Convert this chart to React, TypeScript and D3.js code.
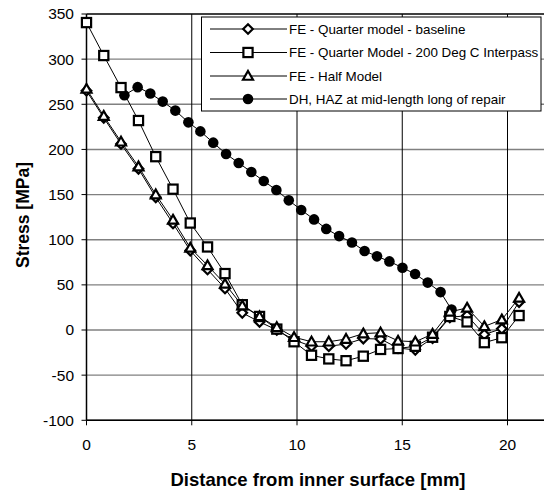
import React from 'react';
import * as d3 from 'd3';

// Distance from inner surface [mm] for the FE model nodes
const feDistance = [0, 0.82, 1.64, 2.47, 3.29, 4.11, 4.93, 5.75, 6.58, 7.4, 8.22, 9.04, 9.86, 10.69, 11.51, 12.33, 13.15, 13.97, 14.8, 15.62, 16.44, 17.26, 18.08, 18.9, 19.73, 20.55];
// Stress [MPa]
const quarterBaseline = [265, 235, 206, 178.5, 147, 118, 88, 67, 46, 19, 9, 0, -11, -18, -18, -15.5, -9.5, -10, -20, -22, -9, 14, 16, -5, 1.5, 31];
const quarterInterpass = [340.5, 304, 268.5, 232, 192, 156, 118.5, 92, 62.5, 28, 15, 1, -13, -28, -32, -34, -29, -21.5, -20.5, -18, -8, 15, 9, -14, -8.5, 16];
const halfModel = [267, 237, 208.5, 181, 150, 122, 91, 71.5, 51, 27, 15, 3, -8, -13, -13, -10, -4, -3, -12, -13, -4.5, 20, 24.5, 4, 11.5, 35.5];

// Deep-hole drilling measurement
const dhDistance = [1.8, 2.43, 3.03, 3.62, 4.22, 4.84, 5.41, 6.02, 6.63, 7.23, 7.83, 8.42, 9.02, 9.61, 10.2, 10.81, 11.39, 12.0, 12.61, 13.21, 13.8, 14.39, 15.01, 15.61, 16.21, 16.82, 17.34];
const dhStress = [260, 269, 262, 253, 243, 230, 220, 207.5, 195, 185, 175, 165, 155, 143.6, 133, 122.5, 112, 104, 97, 87.5, 81.6, 76, 69, 62, 52.5, 42, 22.6];

const seriesNames = [
  'FE - Quarter model - baseline',
  'FE - Quarter Model - 200 Deg C Interpass',
  'FE - Half Model',
  'DH, HAZ at mid-length long of repair',
];
const markerKinds = ['diamond', 'square', 'triangle', 'circle'];

const xTicks = [0, 5, 10, 15, 20];
const yTicks = [-100, -50, 0, 50, 100, 150, 200, 250, 300, 350];

const W = 544;
const H = 492;
const x = d3.scaleLinear().domain([0, 22]).range([86.5, 86.5 + 22 * 21.05]);
const y = d3.scaleLinear().domain([-100, 350]).range([420.3, 14]);

const FONT = 'Liberation Sans, Arial, sans-serif';

function Marker({ kind, cx, cy }: { kind: string; cx: number; cy: number }) {
  const sw = 2.2;
  if (kind === 'diamond') {
    const r = 4.8;
    return (
      <path
        d={`M${cx},${cy - r}L${cx + r},${cy}L${cx},${cy + r}L${cx - r},${cy}Z`}
        fill="#fff"
        stroke="#000"
        strokeWidth={sw}
      />
    );
  }
  if (kind === 'square') {
    const r = 4.6;
    return <rect x={cx - r} y={cy - r} width={2 * r} height={2 * r} fill="#fff" stroke="#000" strokeWidth={sw} />;
  }
  if (kind === 'triangle') {
    const r = 5;
    return (
      <path
        d={`M${cx},${cy - r}L${cx + r},${cy + r * 0.75}L${cx - r},${cy + r * 0.75}Z`}
        fill="#fff"
        stroke="#000"
        strokeWidth={sw}
        strokeLinejoin="miter"
      />
    );
  }
  return <circle cx={cx} cy={cy} r={5.3} fill="#000" />;
}

export default function App() {
  const line = d3
    .line<[number, number]>()
    .x((d) => x(d[0]))
    .y((d) => y(d[1]));

  const feSeries = [quarterBaseline, quarterInterpass, halfModel].map((vals) =>
    vals.map((v, i) => [feDistance[i], v] as [number, number])
  );
  const dhSeries = dhStress.map((v, i) => [dhDistance[i], v] as [number, number]);

  const [x0, x1] = x.range();
  const [yb, yt] = y.range();

  const legendRows = [29, 52.5, 76, 99];

  return (
    <svg
      width={W}
      height={H}
      style={{ position: 'absolute', left: 0, top: 0, background: '#fff' }}
      fontFamily={FONT}
    >
      <rect x={0} y={0} width={W} height={H} fill="#fff" />

      {/* horizontal gridlines */}
      {yTicks.map((t) => (
        <line
          key={'hg' + t}
          x1={x0}
          x2={x1}
          y1={y(t)}
          y2={y(t)}
          stroke={t === 350 ? '#000' : '#808080'}
          strokeWidth={t === 350 ? 1.5 : 1.4}
        />
      ))}
      {/* vertical gridlines */}
      {xTicks
        .filter((t) => t > 0)
        .map((t) => (
          <line key={'vg' + t} x1={x(t)} x2={x(t)} y1={yt} y2={yb} stroke="#000" strokeWidth={1} />
        ))}

      {/* axes */}
      <line x1={x0} x2={x0} y1={yt} y2={yb} stroke="#000" strokeWidth={1.5} />
      <line x1={x0} x2={x1} y1={yb} y2={yb} stroke="#000" strokeWidth={1.5} />
      {yTicks.map((t) => (
        <g key={'yt' + t}>
          <line x1={x0 - 5} x2={x0} y1={y(t)} y2={y(t)} stroke="#000" strokeWidth={1} />
          <text x={74} y={y(t)} dy="0.35em" textAnchor="end" fontSize={15.5}>
            {t}
          </text>
        </g>
      ))}
      {xTicks.map((t) => (
        <g key={'xt' + t}>
          <line x1={x(t)} x2={x(t)} y1={yb} y2={yb + 5} stroke="#000" strokeWidth={1} />
          <text x={x(t)} y={445} dy="0.35em" textAnchor="middle" fontSize={15.5}>
            {t}
          </text>
        </g>
      ))}

      {/* axis titles */}
      <text x={318} y={480} dy="0.35em" textAnchor="middle" fontSize={18.5} fontWeight="bold">
        Distance from inner surface [mm]
      </text>
      <text
        transform={`translate(23,215) rotate(-90)`}
        dy="0.35em"
        textAnchor="middle"
        fontSize={17.5}
        fontWeight="bold"
      >
        Stress [MPa]
      </text>

      {/* DH measurement */}
      <path d={line(dhSeries) || ''} fill="none" stroke="#000" strokeWidth={1} />
      {dhSeries.map((d, i) => (
        <Marker key={'dh' + i} kind="circle" cx={x(d[0])} cy={y(d[1])} />
      ))}

      {/* FE series */}
      {feSeries.map((s, k) => (
        <g key={'fe' + k}>
          <path d={line(s) || ''} fill="none" stroke="#000" strokeWidth={1} />
          {s.map((d, i) => (
            <Marker key={i} kind={markerKinds[k]} cx={x(d[0])} cy={y(d[1])} />
          ))}
        </g>
      ))}

      {/* legend */}
      <rect x={201.5} y={17} width={339.5} height={94} fill="#fff" stroke="#000" strokeWidth={1} />
      {seriesNames.map((name, k) => (
        <g key={'lg' + k}>
          <line x1={210} x2={287} y1={legendRows[k]} y2={legendRows[k]} stroke="#000" strokeWidth={1} />
          <Marker kind={markerKinds[k]} cx={248} cy={legendRows[k]} />
          <text x={289} y={legendRows[k]} dy="0.35em" fontSize={13.4}>
            {name}
          </text>
        </g>
      ))}
    </svg>
  );
}
